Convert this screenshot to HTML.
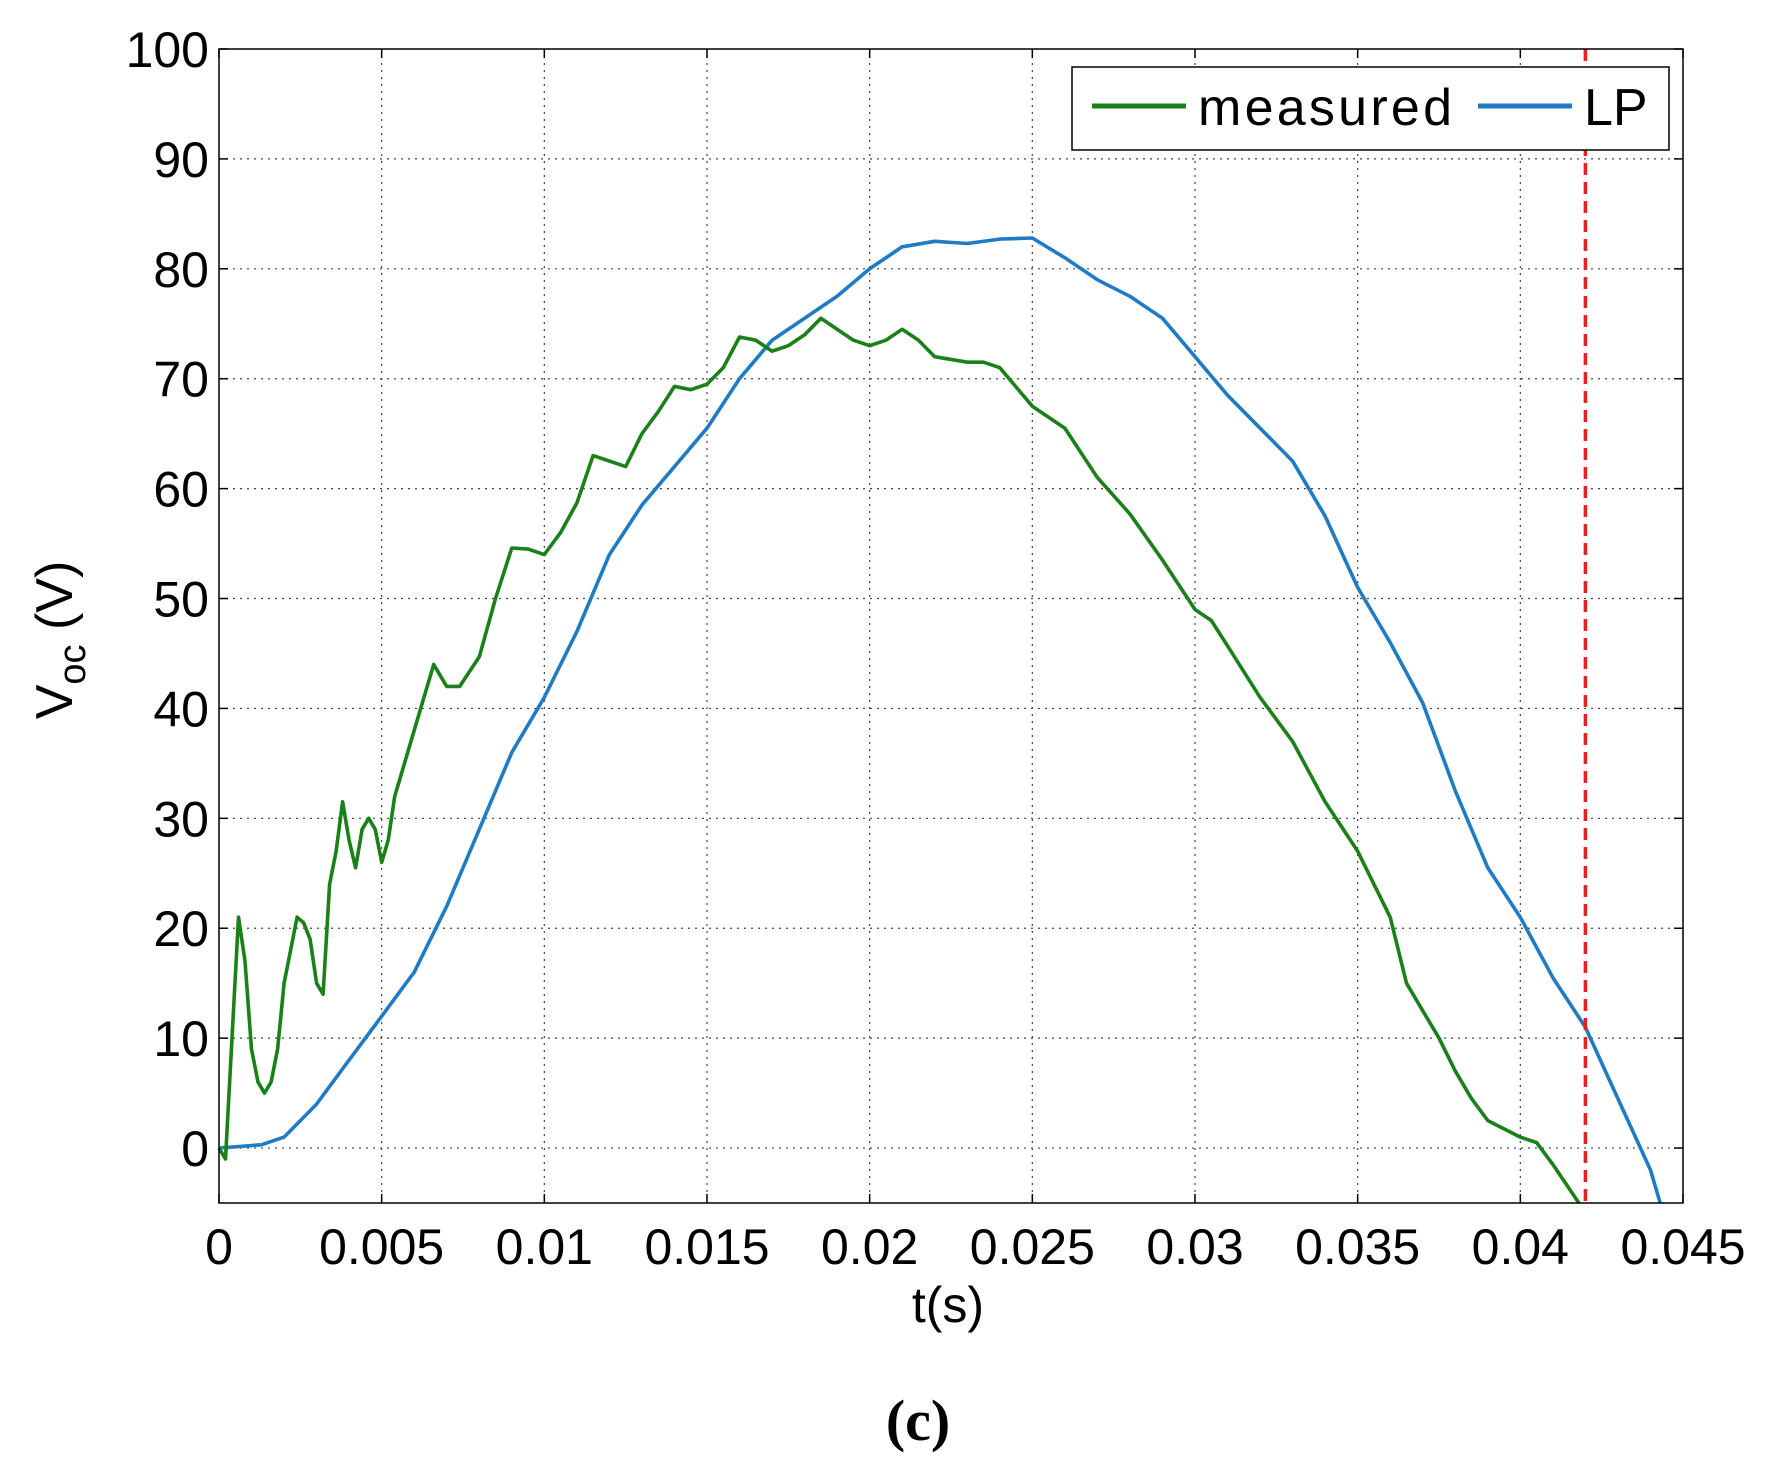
<!DOCTYPE html>
<html><head><meta charset="utf-8"><style>
html,body{margin:0;padding:0;background:#fff;}
svg{display:block;}
text{font-family:"Liberation Sans",Arial,sans-serif;}
</style></head><body>
<svg id="chart" width="1791" height="1476" viewBox="0 0 1791 1476" xmlns="http://www.w3.org/2000/svg">
<g id="grid"></g>
<g id="ticks"></g>
<g id="series"></g>
<rect x="219" y="49" width="1464" height="1154" fill="none" stroke="#000" stroke-width="1.5"/>
<text transform="translate(72,640) rotate(-90)" text-anchor="middle" font-size="52">V<tspan font-size="38" dy="13">oc</tspan><tspan dy="-13"> (V)</tspan></text>
<text x="948" y="1322" text-anchor="middle" font-size="50">t(s)</text>
<text x="918" y="1440" text-anchor="middle" font-size="58" font-weight="bold" style="font-family:'Liberation Serif',serif">(c)</text>
<g>
<rect x="1072" y="67" width="597" height="83" fill="#fff" stroke="#000" stroke-width="1.5"/>
<line x1="1092" y1="106" x2="1186" y2="106" stroke="#1a8018" stroke-width="5"/>
<text x="1198" y="125" font-size="52" textLength="254">measured</text>
<line x1="1478" y1="106" x2="1572" y2="106" stroke="#1f7bc4" stroke-width="5"/>
<text x="1584" y="125" font-size="52">LP</text>
</g>
</svg>
<script>
const xTicks=[0,0.005,0.01,0.015,0.02,0.025,0.03,0.035,0.04,0.045];
const xTickLabels=["0","0.005","0.01","0.015","0.02","0.025","0.03","0.035","0.04","0.045"];
const yTicks=[0,10,20,30,40,50,60,70,80,90,100];
const yTickLabels=["0","10","20","30","40","50","60","70","80","90","100"];
const measuredT=[0,0.0002,0.0004,0.0006,0.0008,0.001,0.0012,0.0014,0.0016,0.0018,0.002,0.0022,0.0024,0.0026,0.0028,0.003,0.0032,0.0034,0.0036,0.0038,0.004,0.0042,0.0044,0.0046,0.0048,0.005,0.0052,0.0054,0.0058,0.0062,0.0066,0.007,0.0074,0.008,0.0085,0.009,0.0095,0.01,0.0105,0.011,0.0115,0.012,0.0125,0.013,0.0135,0.014,0.0145,0.015,0.0155,0.016,0.0165,0.017,0.0175,0.018,0.0185,0.019,0.0195,0.02,0.0205,0.021,0.0215,0.022,0.023,0.0235,0.024,0.025,0.026,0.027,0.028,0.029,0.03,0.0305,0.031,0.032,0.033,0.034,0.035,0.036,0.0365,0.037,0.0375,0.038,0.0385,0.039,0.04,0.0405,0.041,0.0418];
const measuredV=[0,-1,10,21,17,9,6,5,6,9,15,18,21,20.5,19,15,14,24,27,31.5,28,25.5,29,30,29,26,28,32,36,40,44,42,42,44.7,50,54.6,54.5,54,56,58.7,63,62.5,62,65,67,69.3,69,69.5,71,73.8,73.5,72.5,73,74,75.5,74.5,73.5,73,73.5,74.5,73.5,72,71.5,71.5,71,67.5,65.5,61,57.7,53.5,49,48,45.7,41,37,31.5,27,21,15,12.5,10,7,4.5,2.5,1,0.5,-1.5,-5];
const lpT=[0,0.0013,0.002,0.003,0.004,0.005,0.006,0.007,0.008,0.009,0.01,0.011,0.012,0.013,0.014,0.015,0.016,0.017,0.018,0.019,0.02,0.021,0.022,0.023,0.024,0.025,0.026,0.027,0.028,0.029,0.03,0.031,0.032,0.033,0.034,0.035,0.036,0.037,0.038,0.039,0.04,0.041,0.042,0.043,0.044,0.0443];
const lpV=[0,0.3,1,4,8,12,16,22,29,36,41,47,54,58.5,62,65.5,70,73.5,75.5,77.5,80,82,82.5,82.3,82.7,82.8,81,79,77.5,75.5,72,68.5,65.5,62.5,57.5,51,46,40.5,32.5,25.5,21,15.5,11,4.5,-2,-5];
const cutoffT=[0.042];
const L=219,R=1683,T=49,B=1203,xMax=0.045,yMin=-5,yMax=100;
const xs=t=>L+t/xMax*(R-L);
const ys=v=>B-(v-yMin)/(yMax-yMin)*(B-T);
const NS="http://www.w3.org/2000/svg";
function mk(tag,parent){const e=document.createElementNS(NS,tag);document.getElementById(parent).appendChild(e);return e;}
xTicks.forEach((t,i)=>{
 const x=xs(t);
 if(i>0&&i<xTicks.length-1){const g=mk('line','grid');
 
 
 g.setAttribute('x1',x);g.setAttribute('x2',x);g.setAttribute('y1',T);g.setAttribute('y2',B);g.setAttribute('stroke','#444');g.setAttribute('stroke-width','1.2');g.setAttribute('stroke-dasharray','2 5');}
 [[B,B-9],[T,T+9]].forEach(p=>{const k=mk('line','ticks');
 
 
 k.setAttribute('x1',x);k.setAttribute('x2',x);k.setAttribute('y1',p[0]);k.setAttribute('y2',p[1]);k.setAttribute('stroke','#000');k.setAttribute('stroke-width','1.5');});
 const tx=mk('text','ticks');
 
 
 tx.setAttribute('x',x);tx.setAttribute('y',1264);tx.setAttribute('text-anchor','middle');tx.setAttribute('font-size','50');tx.textContent=xTickLabels[i];
});
yTicks.forEach((v,i)=>{
 const y=ys(v);
 if(v<100){const g=mk('line','grid');
 
 
 g.setAttribute('x1',L);g.setAttribute('x2',R);g.setAttribute('y1',y);g.setAttribute('y2',y);g.setAttribute('stroke','#444');g.setAttribute('stroke-width','1.2');g.setAttribute('stroke-dasharray','2 5');}
 [[L,L+9],[R,R-9]].forEach(p=>{const k=mk('line','ticks');
 
 
 k.setAttribute('x1',p[0]);k.setAttribute('x2',p[1]);k.setAttribute('y1',y);k.setAttribute('y2',y);k.setAttribute('stroke','#000');k.setAttribute('stroke-width','1.5');});
 const tx=mk('text','ticks');
 
 
 tx.setAttribute('x',209);tx.setAttribute('y',y+18);tx.setAttribute('text-anchor','end');tx.setAttribute('font-size','50');tx.textContent=yTickLabels[i];
});
function line(ts,vs,color,name){const p=mk('polyline','series');
 
 
 p.setAttribute('points',ts.map((t,i)=>xs(t).toFixed(1)+','+ys(vs[i]).toFixed(1)).join(' '));
 p.setAttribute('fill','none');p.setAttribute('stroke',color);p.setAttribute('stroke-width','3.6');p.setAttribute('stroke-linejoin','round');}
line(lpT,lpV,'#1f7bc4','lp-line');
line(measuredT,measuredV,'#1a8018','measured-line');
cutoffT.forEach(t=>{const c=mk('line','series');
 
 
 c.setAttribute('x1',xs(t));c.setAttribute('x2',xs(t));c.setAttribute('y1',T);c.setAttribute('y2',B);c.setAttribute('stroke','#e8211f');c.setAttribute('stroke-width','3.5');c.setAttribute('stroke-dasharray','12 7');});
</script>
</body></html>
